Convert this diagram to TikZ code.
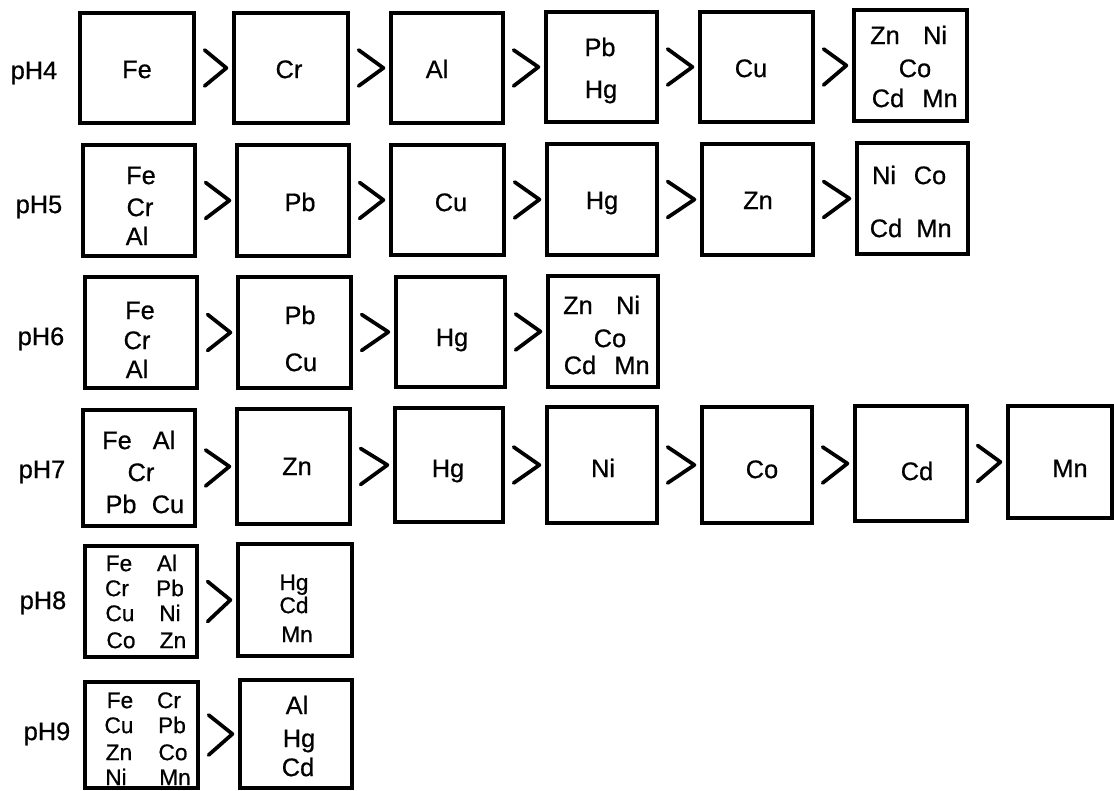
\documentclass[tikz,border=0pt]{standalone}
\usepackage{fontspec}
\setmainfont{Liberation Sans}[FakeBold=0.6]
\usetikzlibrary{fit,calc}
\tikzset{
  box/.style={draw, line width=2.4pt, inner sep=0pt, rectangle},
  t/.style={inner sep=0pt, font=\fontsize{19}{22}\selectfont, text height=13.6pt, text depth=0pt},
  ts/.style={inner sep=0pt, font=\fontsize{17}{20}\selectfont, text height=12.2pt, text depth=0pt},
  chev/.style={line width=2.8pt, line cap=round, line join=round},
}
\newcommand\bx[5]{\node[box, fit={(#2,#3) (#4,#5)}] (#1) {};}
\newcommand\chv[3][18]{\draw[chev] ($(#2.east)+(9,-#1)$) -- ($(#3.west)+(-6,0)$) -- ($(#2.east)+(9,#1)$);}
\begin{document}
\begin{tikzpicture}[x=0.75pt,y=-0.75pt]
\useasboundingbox (0,0) rectangle (1114,791);
% ---------- pH4
\node[t] (l4) at (34,70) {pH4};
\bx{a1}{80}{13}{194}{123}
\node[t] (a1t) at (137,69) {Fe};
\bx{a2}{234}{13}{348}{123}
\node[t] (a2t) at (289,69) {Cr};
\bx{a3}{391}{13}{503}{123}
\node[t] (a3t) at (437,69) {Al};
\bx{a4}{546}{12}{657}{122}
\node[t] (a4t) at (600,47) {Pb};
\node[t] (a4u) at (601,89) {Hg};
\bx{a5}{700}{12}{813}{122}
\node[t] (a5t) at (751,68) {Cu};
\bx{a6}{854}{10}{967}{121}
\node[t] (a6a) at (885,35) {Zn};
\node[t] (a6b) at (935,35) {Ni};
\node[t] (a6c) at (915,68) {Co};
\node[t] (a6d) at (888,98) {Cd};
\node[t] (a6e) at (940,98) {Mn};
\chv{a1}{a2}\chv{a2}{a3}\chv{a3}{a4}\chv{a4}{a5}\chv{a5}{a6}
% ---------- pH5
\node[t] (l5) at (39,204) {pH5};
\bx{b1}{83}{145}{195}{256}
\node[t] (b1a) at (141,175) {Fe};
\node[t] (b1b) at (140,207) {Cr};
\node[t] (b1c) at (137,236) {Al};
\bx{b2}{237}{145}{349}{256}
\node[t] (b2t) at (300,202) {Pb};
\bx{b3}{391}{145}{504}{255}
\node[t] (b3t) at (451,202) {Cu};
\bx{b4}{547}{144}{657}{255}
\node[t] (b4t) at (602,200) {Hg};
\bx{b5}{702}{144}{813}{255}
\node[t] (b5t) at (758,200) {Zn};
\bx{b6}{857}{143}{968}{254}
\node[t] (b6a) at (884,175) {Ni};
\node[t] (b6b) at (930,175) {Co};
\node[t] (b6c) at (886,228) {Cd};
\node[t] (b6d) at (934,228) {Mn};
\chv{b1}{b2}\chv{b2}{b3}\chv{b3}{b4}\chv{b4}{b5}\chv{b5}{b6}
% ---------- pH6
\node[t] (l6) at (41,336) {pH6};
\bx{c1}{85}{277}{197}{388}
\node[t] (c1a) at (140,310) {Fe};
\node[t] (c1b) at (137,340) {Cr};
\node[t] (c1c) at (137,369) {Al};
\bx{c2}{238}{277}{351}{388}
\node[t] (c2a) at (300,315) {Pb};
\node[t] (c2b) at (301,362) {Cu};
\bx{c3}{396}{277}{505}{387}
\node[t] (c3t) at (452,337) {Hg};
\bx{c4}{548}{276}{658}{387}
\node[t] (c4a) at (578,305) {Zn};
\node[t] (c4b) at (628,305) {Ni};
\node[t] (c4c) at (610,338) {Co};
\node[t] (c4d) at (580,365) {Cd};
\node[t] (c4e) at (632,365) {Mn};
\chv{c1}{c2}\chv{c2}{c3}\chv{c3}{c4}
% ---------- pH7
\node[t] (l7) at (42,469) {pH7};
\bx{d1}{83}{410}{195}{526}
\node[t] (d1a) at (117,440) {Fe};
\node[t] (d1b) at (164,440) {Al};
\node[t] (d1c) at (141,472) {Cr};
\node[t] (d1d) at (121,504) {Pb};
\node[t] (d1e) at (168,504) {Cu};
\bx{d2}{237}{409}{350}{524}
\node[t] (d2t) at (297,466) {Zn};
\bx{d3}{395}{408}{503}{522}
\node[t] (d3t) at (448,468) {Hg};
\bx{d4}{547}{407}{657}{523}
\node[t] (d4t) at (603,468) {Ni};
\bx{d5}{702}{407}{812}{523}
\node[t] (d5t) at (762,469) {Co};
\bx{d6}{855}{406}{967}{521}
\node[t] (d6t) at (917,471) {Cd};
\bx{d7}{1008}{406}{1112}{518}
\node[t] (d7t) at (1070,468) {Mn};
\chv{d1}{d2}\chv{d2}{d3}\chv{d3}{d4}\chv{d4}{d5}\chv{d5}{d6}\chv{d6}{d7}
% ---------- pH8
\node[t] (l8) at (43,600) {pH8};
\bx{e1}{85}{546}{197}{657}
\node[ts] (e1a) at (119,563) {Fe};
\node[ts] (e1b) at (167,563) {Al};
\node[ts] (e1c) at (117,588) {Cr};
\node[ts] (e1d) at (170,588) {Pb};
\node[ts] (e1e) at (120,613) {Cu};
\node[ts] (e1f) at (170,613) {Ni};
\node[ts] (e1g) at (121,640) {Co};
\node[ts] (e1h) at (173,640) {Zn};
\bx{e2}{238}{544}{352}{656}
\node[ts] (e2a) at (294,582) {Hg};
\node[ts] (e2b) at (294,605) {Cd};
\node[ts] (e2c) at (297,634) {Mn};
\chv[20]{e1}{e2}
% ---------- pH9
\node[t] (l9) at (47,731) {pH9};
\bx{f1}{85}{682}{198}{788}
\node[ts] (f1a) at (120,700) {Fe};
\node[ts] (f1b) at (169,700) {Cr};
\node[ts] (f1c) at (119,725) {Cu};
\node[ts] (f1d) at (172,725) {Pb};
\node[ts] (f1e) at (119,752) {Zn};
\node[ts] (f1f) at (173,752) {Co};
\node[ts] (f1g) at (116,777) {Ni};
\node[ts] (f1h) at (175,777) {Mn};
\bx{f2}{240}{680}{352}{788}
\node[t] (f2a) at (297,705) {Al};
\node[t] (f2b) at (299,738) {Hg};
\node[t] (f2c) at (298,767) {Cd};
\chv[20]{f1}{f2}
\end{tikzpicture}
\end{document}
